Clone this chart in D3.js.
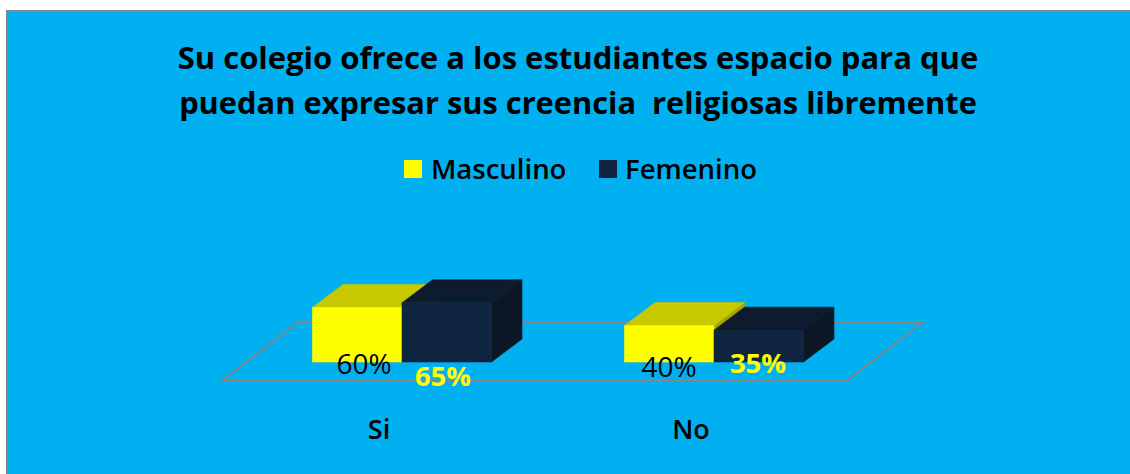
<!DOCTYPE html>
<html><head><meta charset="utf-8">
<script src="https://cdn.jsdelivr.net/npm/d3@7"></script>
<style>html,body{margin:0;padding:0;background:#fff}svg{display:block}text{font-family:"Open Sans",sans-serif}</style>
</head><body><svg id="c" width="1130" height="474"></svg>
<script>
const categories = ["Si", "No"];
const seriesNames = ["Masculino", "Femenino"];
const masculino = [60, 40];
const femenino = [65, 35];
const titleLines = ["Su colegio ofrece a los estudiantes espacio para que", "puedan expresar sus creencia  religiosas libremente"];
const seriesValues = [masculino, femenino];
const frontColors = ["#ffff00", "#10253f"];
const topColors = ["#c8c800", "#0d1b2e"];
const sideColors = ["#a5a500", "#0b1724"];
const labelColors = ["#000000", "#ffff00"];

const svg = d3.select("#c");
svg.append("rect").attr("x", 7).attr("y", 11).attr("width", 1124).attr("height", 464)
  .attr("fill", "#00b0f0").attr("stroke", "#868686").attr("stroke-width", 2);

svg.selectAll("text.title").data(titleLines).join("text").attr("class", "title")
  .attr("x", 578).attr("y", (d, i) => 69 + i * 45).attr("text-anchor", "middle")
  .attr("font-size", (d, i) => i ? 30.8 : 31).attr("font-weight", 700).attr("fill", "#000").style("white-space", "pre").text(d => d);

// legend
const legendX = [404, 599], legendTextX = [431, 625];
seriesNames.forEach((n, i) => {
  svg.append("rect").attr("x", legendX[i]).attr("y", 160).attr("width", 18).attr("height", 18).attr("fill", frontColors[i]);
  svg.append("text").attr("x", legendTextX[i]).attr("y", 178.5).attr("font-size", 27.5).attr("font-weight", 600).attr("fill", "#000").text(n);
});

const x0 = d3.scaleBand().domain(categories).range([246, 870]);
const x1 = d3.scaleBand().domain(seriesNames).range([0, 179]);
const y = d3.scaleLinear().domain([0, 100]).range([362, 271]);
const dx = 30.5, dy = 23;
const center = c => x0(c) + x0.bandwidth() / 2;

// floor
const floorPath = d3.path();
floorPath.moveTo(223, 380); floorPath.lineTo(848, 380); floorPath.lineTo(923, 322); floorPath.lineTo(298, 322); floorPath.closePath();
svg.append("path").attr("d", floorPath.toString()).attr("fill", "none").attr("stroke", "#868686").attr("stroke-width", 1.8);

const poly = pts => "M" + pts.map(p => p.join(",")).join("L") + "Z";
categories.forEach((c, ci) => {
  seriesNames.forEach((s, si) => {
    const v = seriesValues[si][ci];
    const l = center(c) - 89.5 + x1(s), r = l + x1.bandwidth(), t = y(v), b = y(0);
    svg.append("path").attr("d", poly([[r, t], [r + dx, t - dy], [r + dx, b - dy], [r, b]])).attr("fill", sideColors[si]).attr("stroke", sideColors[si]).attr("stroke-width", 0.6);
    svg.append("path").attr("d", poly([[l, t], [l + dx, t - dy], [r + dx, t - dy], [r, t]])).attr("fill", topColors[si]).attr("stroke", topColors[si]).attr("stroke-width", 0.6);
    svg.append("rect").attr("x", l).attr("y", t).attr("width", r - l).attr("height", b - t).attr("fill", frontColors[si]).attr("stroke", frontColors[si]).attr("stroke-width", 0.6);
  });
});

// value labels
const labelDx = [[-38, 41], [-45, 44]];
const labelY = [[374, 386], [377, 373]];
categories.forEach((c, ci) => {
  seriesNames.forEach((s, si) => {
    svg.append("text").attr("x", center(c) + labelDx[ci][si] ).attr("y", labelY[ci][si]).attr("text-anchor", "middle")
      .attr("font-size", si ? 27.5 : 28).attr("font-weight", si ? 700 : 500).attr("fill", labelColors[si])
      .text(seriesValues[si][ci] + "%");
  });
  svg.append("text").attr("x", center(c) - 23).attr("y", 439).attr("text-anchor", "middle")
    .attr("font-size", 27).attr("font-weight", 600).attr("fill", "#000").text(c);
});
</script></body></html>
